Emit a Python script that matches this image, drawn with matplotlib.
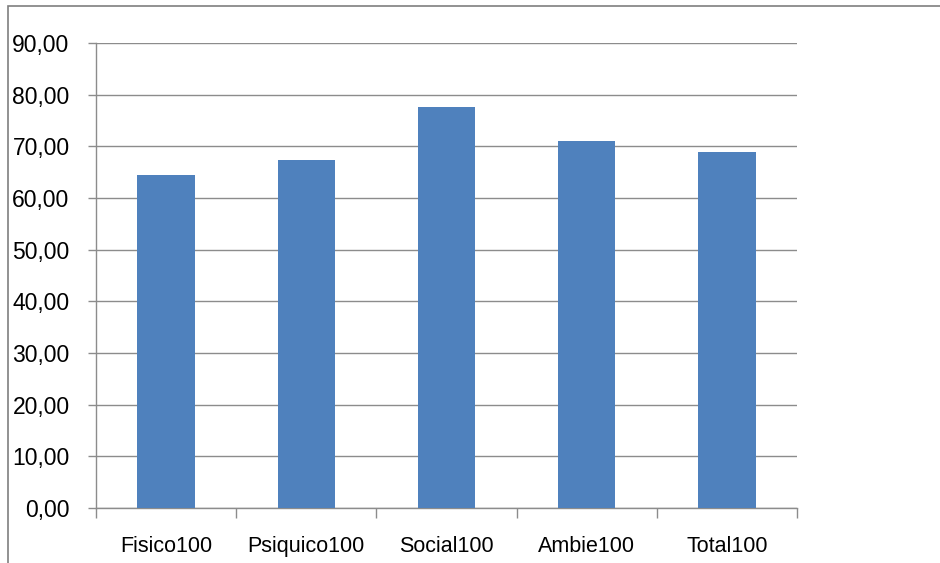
import matplotlib
matplotlib.use('Agg')
import matplotlib.pyplot as plt
from matplotlib.patches import Rectangle
from matplotlib.ticker import FuncFormatter

categorias = ['Fisico100', 'Psiquico100', 'Social100', 'Ambie100', 'Total100']
valores = [64.53, 67.43, 77.60, 71.10, 68.97]
y_ticks = [0, 10, 20, 30, 40, 50, 60, 70, 80, 90]

plt.rcParams['font.family'] = ['Liberation Sans', 'DejaVu Sans']
gris = '#8c8c8c'

fig = plt.figure(figsize=(9.4, 5.63), dpi=100)
ax = fig.add_axes([96/940, 1 - 508/563, (797-96)/940, (508-43)/563])

# marco exterior del grafico
fig.patches.append(Rectangle((8/940, -0.1), 1.2, 1 - 6/563 + 0.1,
                             transform=fig.transFigure, fill=False,
                             edgecolor='#7f7f7f', linewidth=1.2))

x = range(len(categorias))
ax.bar(x, valores, width=0.41, color='#4F81BD', zorder=3)

ax.set_xlim(-0.5, len(categorias) - 0.5)
ax.set_ylim(0, 90)
ax.set_yticks(y_ticks)
ax.yaxis.set_major_formatter(FuncFormatter(lambda v, p: f'{v:.2f}'.replace('.', ',')))
ax.grid(axis='y', color=gris, linewidth=1, zorder=0)

ax.set_xticks(list(x))
ax.set_xticklabels(categorias)
ax.set_xticks([i - 0.5 for i in range(len(categorias) + 1)], minor=True)
ax.tick_params(axis='x', which='major', length=0, pad=20, labelsize=15.5)
ax.tick_params(axis='x', which='minor', length=7, color=gris, width=1)
ax.tick_params(axis='y', length=6, color=gris, width=1, pad=13, labelsize=16.5)

for s in ['top', 'right']:
    ax.spines[s].set_visible(False)
for s in ['left', 'bottom']:
    ax.spines[s].set_color(gris)
    ax.spines[s].set_linewidth(1)

fig.savefig('out.png', dpi=100)
